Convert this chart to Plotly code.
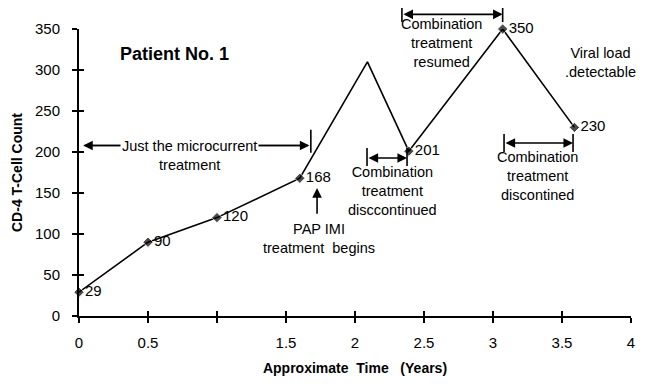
import plotly.graph_objects as go

# ---- data ----
years = [0, 0.5, 1.0, 1.6, 2.09, 2.39, 3.07, 3.59]
cd4 = [29, 90, 120, 168, 310, 201, 350, 230]
point_labels = ["29", "90", "120", "168", "", "201", "350", "230"]
marker_sizes = [8, 8, 8, 8, 0, 8, 8, 8]

x_tickvals = [0, 0.5, 1, 1.5, 2, 2.5, 3, 3.5, 4]
x_ticktext = ["0", "0.5", "", "1.5", "2", "2.5", "3", "3.5", "4"]
y_tickvals = [0, 50, 100, 150, 200, 250, 300, 350]
y_ticktext = [str(v) for v in y_tickvals]

FONT = "Liberation Sans, Arial, sans-serif"
NUMFONT = dict(family=FONT, size=15, color="black")
TXT = dict(family=FONT, size=14.5, color="black")

fig = go.Figure()
fig.add_trace(go.Scatter(
    x=years, y=cd4, mode="lines+markers+text",
    line=dict(color="black", width=1.6),
    marker=dict(symbol="diamond", size=marker_sizes, color="black"),
    text=point_labels, textposition="middle right",
    textfont=NUMFONT, cliponaxis=False, showlegend=False, hoverinfo="skip"))
# invisible trace for overlay axes (inside ticks)
fig.add_trace(go.Scatter(x=[0], y=[0], xaxis="x2", yaxis="y2", mode="markers",
                         marker=dict(opacity=0), showlegend=False, hoverinfo="skip"))

axis_common = dict(showgrid=False, zeroline=False, showline=True, linecolor="black",
                   linewidth=2, ticks="outside", ticklen=5, tickwidth=2, tickcolor="black",
                   automargin=False)

# page body has an 8px margin: figure is 642x379 so that it fills the 650x387 window
fig.update_layout(
    width=642, height=379,
    margin=dict(l=71, r=19, t=21, b=71),
    paper_bgcolor="white", plot_bgcolor="white",
    font=TXT,
    xaxis=dict(range=[0, 4], tickvals=x_tickvals, ticktext=x_ticktext,
               tickfont=NUMFONT, ticklabelstandoff=7,
               title=dict(text="Approximate  Time   (Years)",
                          font=dict(family=FONT, size=14, color="black", weight="bold"),
                          standoff=13),
               **axis_common),
    yaxis=dict(range=[0, 350], tickvals=y_tickvals, ticktext=y_ticktext,
               tickfont=NUMFONT, ticklabelstandoff=9,
               title=dict(text="CD-4 T-Cell Count",
                          font=dict(family=FONT, size=14, color="black", weight="bold"),
                          standoff=9),
               **axis_common),
    xaxis2=dict(range=[0, 4], overlaying="x", tickvals=x_tickvals, showticklabels=False,
                ticks="inside", ticklen=5, tickwidth=2, tickcolor="black",
                showgrid=False, zeroline=False, showline=False, automargin=False),
    yaxis2=dict(range=[0, 350], overlaying="y", tickvals=y_tickvals, showticklabels=False,
                ticks="inside", ticklen=5, tickwidth=2, tickcolor="black",
                showgrid=False, zeroline=False, showline=False, automargin=False),
)

def arrow(x0, y0, x1, y1, double=False):
    fig.add_annotation(x=x1, y=y1, ax=x0, ay=y0, xref="x", yref="y", axref="x", ayref="y",
                       text="", showarrow=True, arrowhead=2, arrowsize=1.2, arrowwidth=1.6,
                       arrowcolor="black", arrowside="end+start" if double else "end",
                       startarrowhead=2, startarrowsize=1.2, standoff=0, startstandoff=0)

def label(x, y, text, **kw):
    fig.add_annotation(x=x, y=y, xref="x", yref="y", text=text, showarrow=False,
                       font=TXT, align="center", **kw)

def bar(x, y0, y1, yref="y"):
    fig.add_shape(type="line", x0=x, x1=x, y0=y0, y1=y1, xref="x", yref=yref,
                  line=dict(color="black", width=1.6))

# Title
fig.add_annotation(x=0.69, y=320, xref="x", yref="y", text="Patient No. 1", showarrow=False,
                   font=dict(family=FONT, size=18, color="black", weight="bold"))

# Just the microcurrent treatment
arrow(1.67, 208, 0.03, 208)
arrow(0.03, 208, 1.67, 208)
bar(1.68, 199, 227)
label(0.80, 196, "Just the microcurrent<br>treatment", bgcolor="white")

# PAP IMI
arrow(1.725, 123, 1.725, 156)
label(1.74, 94, "PAP IMI<br>treatment  begins")

# Combination treatment disccontinued
arrow(2.087, 192.7, 2.377, 192.7, double=True)
bar(2.087, 183, 205)
bar(2.377, 183, 205)
label(2.27, 152, "Combination<br>treatment<br>disccontinued")

# Combination treatment resumed (above the plot area -> paper y)
fig.add_annotation(x=3.07, y=1.051, xref="x", yref="paper", ax=-(3.07 - 2.34) * 138, ay=0,
                   axref="pixel", ayref="pixel", text="", showarrow=True,
                   arrowhead=2, arrowsize=1.2, arrowwidth=1.6, arrowcolor="black",
                   arrowside="end+start", startarrowhead=2, startarrowsize=1.2,
                   standoff=0, startstandoff=0)
bar(2.34, 1.024, 1.084, yref="paper")
bar(3.07, 1.024, 1.084, yref="paper")
label(2.63, 333, "Combination<br>treatment<br>resumed")

# Viral load detectable
label(3.78, 309, "Viral load<br>.detectable")

# Combination treatment discontined
arrow(3.08, 211, 3.58, 211, double=True)
bar(3.08, 200, 222)
bar(3.58, 200, 222)
label(3.32, 171, "Combination<br>treatment<br>discontined")

fig.write_html("out.html")
